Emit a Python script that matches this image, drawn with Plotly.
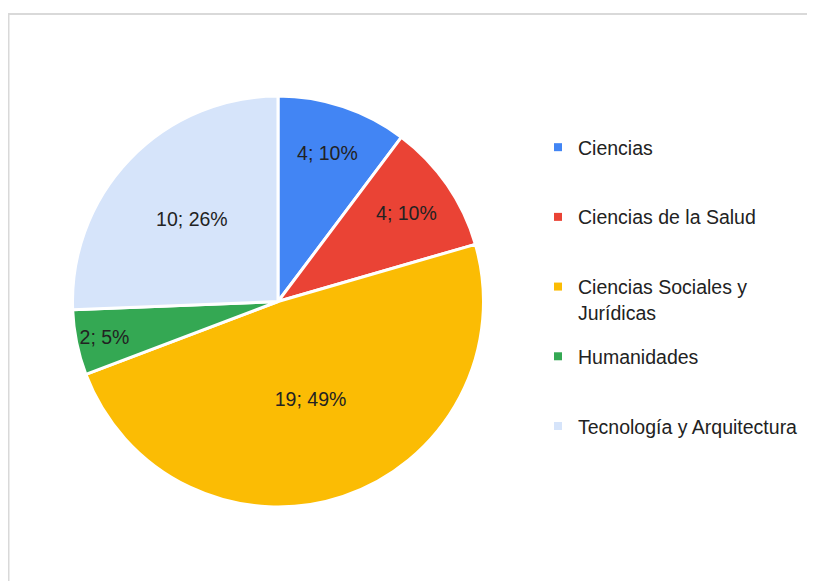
import plotly.graph_objects as go

labels = ["Ciencias", "Ciencias de la Salud", "Ciencias Sociales y Jurídicas",
          "Humanidades", "Tecnología y Arquitectura"]
legend_names = ["Ciencias<br> ", "Ciencias de la Salud<br> ", "Ciencias Sociales y<br>Jurídicas",
                "Humanidades<br> ", "Tecnología y Arquitectura<br> "]
values = [4, 4, 19, 2, 10]
colors = ["#4285F4", "#EA4335", "#FBBC04", "#34A853", "#D6E4FA"]

FONT = "Liberation Sans, Arial, sans-serif"
# page body has an 8px margin: figure occupies 807x573 of the 815x581 window
W, H = 807, 573

fig = go.Figure()
fig.add_trace(go.Pie(
    labels=labels, values=values, sort=False, direction="clockwise", rotation=0,
    marker=dict(colors=colors, line=dict(color="white", width=3)),
    texttemplate="%{value}; %{percent:.0%}", textposition="inside",
    insidetextorientation="horizontal",
    textfont=dict(family=FONT, size=19.5, color="#222222"),
    showlegend=False, hoverinfo="label+value+percent",
    domain=dict(x=[64 / W, 476 / W], y=[1 - 499 / H, 1 - 88 / H]),
))
for i, (nm, c) in enumerate(zip(legend_names, colors)):
    fig.add_trace(go.Scatter(
        x=[None], y=[None], mode="markers", name=nm, legendgroup=str(i),
        marker=dict(symbol="square", size=8, color=c), hoverinfo="skip",
    ))

fig.update_layout(
    width=W, height=H, margin=dict(l=0, r=0, t=0, b=0),
    paper_bgcolor="white", plot_bgcolor="white",
    xaxis=dict(visible=False), yaxis=dict(visible=False),
    legend=dict(x=530 / W, xanchor="left", y=1 - 120 / H, yanchor="top",
                font=dict(family=FONT, size=19.5, color="#222222"),
                valign="top", tracegroupgap=16, bgcolor="rgba(0,0,0,0)",
                itemclick=False, itemdoubleclick=False),
    shapes=[dict(type="rect", xref="paper", yref="paper",
                 x0=0.5 / W, x1=1.05, y0=-0.05, y1=1 - 6 / H,
                 line=dict(color="#D9D9D9", width=2), layer="below")],
)
fig.write_html("out.html")
